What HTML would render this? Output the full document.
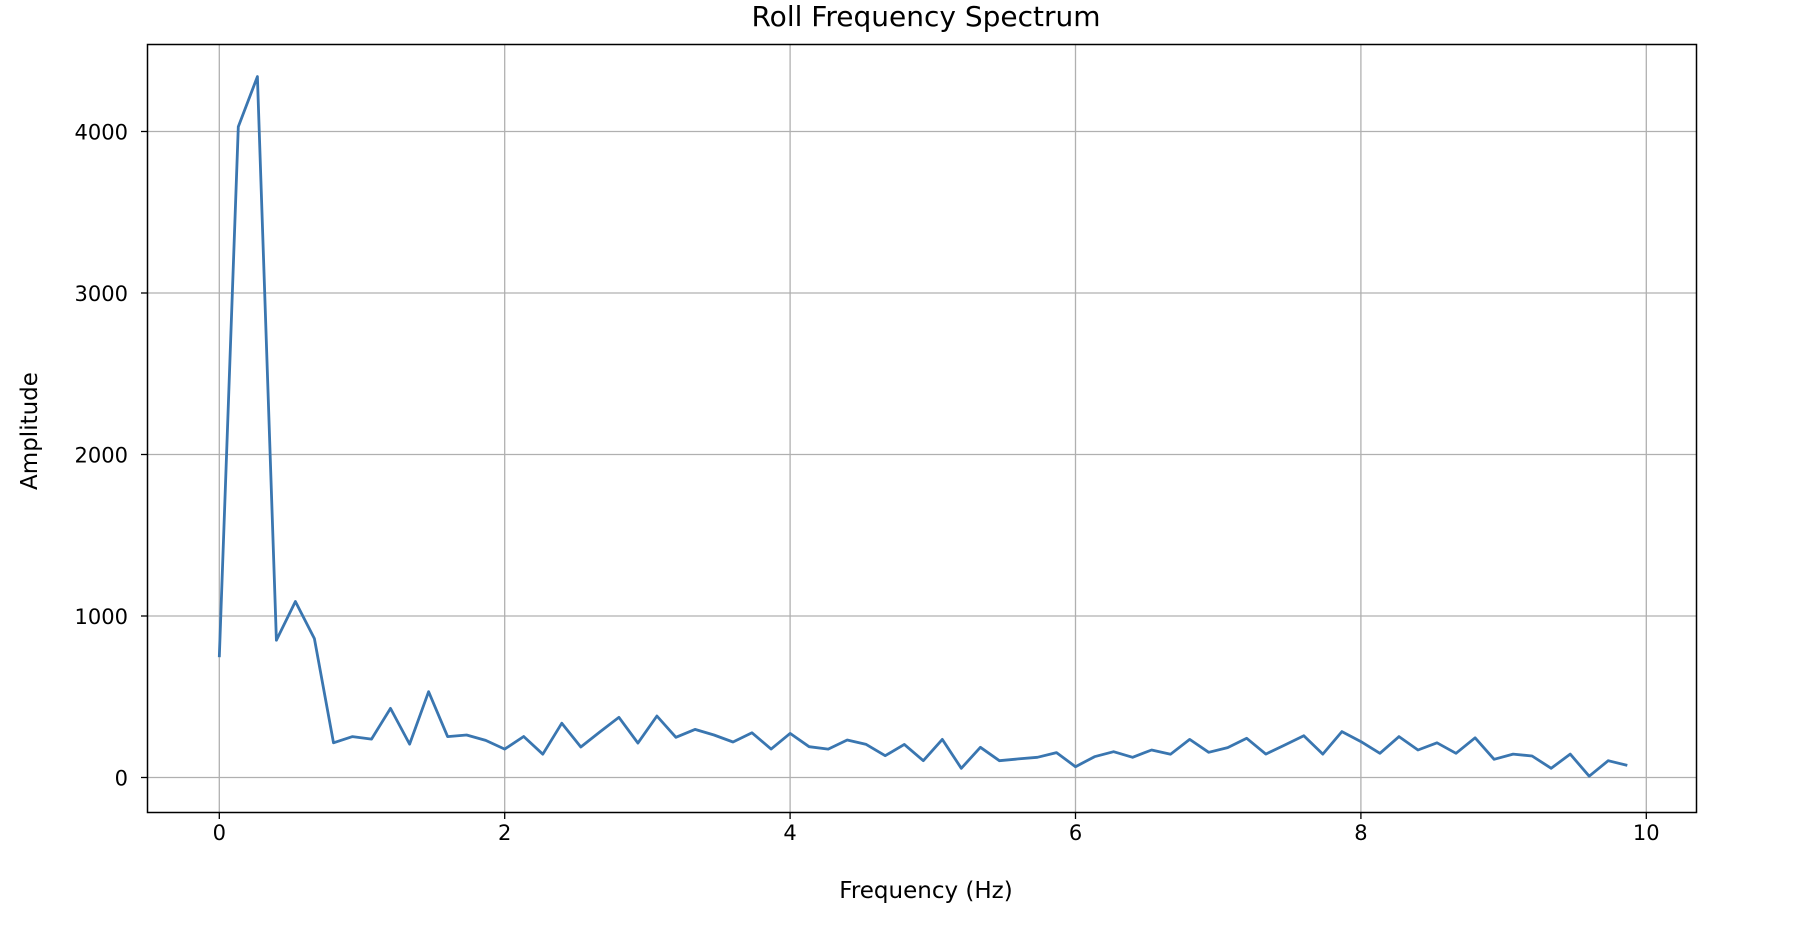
<!DOCTYPE html>
<html><head><meta charset="utf-8"><style>
html,body{margin:0;padding:0;background:#fff;}
svg{display:block;font-family:"DejaVu Sans","Liberation Sans",sans-serif;}
</style></head><body>
<svg id="chart" width="1798" height="926" viewBox="0 0 1798 926" xmlns="http://www.w3.org/2000/svg">
<rect width="1798" height="926" fill="#fff"/>
<text x="926" y="26" font-size="28" text-anchor="middle" fill="#000">Roll Frequency Spectrum</text>
<g id="grid"></g>
<g id="ticks"></g>
<path id="series" fill="none" stroke="#3a76b0" stroke-width="2.8" stroke-linejoin="round"/>
<rect x="147.5" y="44.5" width="1549" height="768" fill="none" stroke="#000" stroke-width="1.5"/>
<text x="926" y="898" font-size="23" text-anchor="middle" fill="#000">Frequency (Hz)</text>
<text x="0" y="0" font-size="23" text-anchor="middle" fill="#000" transform="translate(37,431) rotate(-90)">Amplitude</text>
</svg>
<script>
const amplitudes = [745,4030,4340,850,1090,860,215,253,238,428,207,531,253,263,230,176,254,144,336,189,282,373,213,381,249,298,263,220,277,176,273,191,176,232,205,135,205,104,236,57,187,104,115,125,154,67,129,160,125,170,144,236,156,185,243,145,201,259,145,284,222,150,253,170,215,150,246,113,145,133,57,145,8,104,75];
const freqStep = 10/75;
const xTicks = [0,2,4,6,8,10];
const yTicks = [0,1000,2000,3000,4000];
const x0=219.3, xs=142.7, y0=777.5, ys=0.1615;
function X(v){return x0+v*xs;}
function Y(v){return y0-v*ys;}
const ns="http://www.w3.org/2000/svg";
const grid=document.getElementById('grid'), ticks=document.getElementById('ticks');
xTicks.forEach(t=>{
  const l=document.createElementNS(ns,'line');
  
  
  l.setAttribute('x1',X(t));l.setAttribute('x2',X(t));l.setAttribute('y1',44.5);l.setAttribute('y2',812.5);
  l.setAttribute('stroke','#b0b0b0');l.setAttribute('stroke-width','1.3');grid.appendChild(l);
  const k=document.createElementNS(ns,'line');
  
  
  k.setAttribute('x1',X(t));k.setAttribute('x2',X(t));k.setAttribute('y1',812.5);k.setAttribute('y2',819);
  k.setAttribute('stroke','#000');k.setAttribute('stroke-width','1.3');ticks.appendChild(k);
  const tx=document.createElementNS(ns,'text');
  
  
  tx.setAttribute('x',X(t));tx.setAttribute('y',840);tx.setAttribute('font-size','21');tx.setAttribute('text-anchor','middle');
  tx.textContent=t;ticks.appendChild(tx);
});
yTicks.forEach(t=>{
  const l=document.createElementNS(ns,'line');
  
  
  l.setAttribute('x1',147.5);l.setAttribute('x2',1696.5);l.setAttribute('y1',Y(t));l.setAttribute('y2',Y(t));
  l.setAttribute('stroke','#b0b0b0');l.setAttribute('stroke-width','1.3');grid.appendChild(l);
  const k=document.createElementNS(ns,'line');
  
  
  k.setAttribute('x1',141);k.setAttribute('x2',147.5);k.setAttribute('y1',Y(t));k.setAttribute('y2',Y(t));
  k.setAttribute('stroke','#000');k.setAttribute('stroke-width','1.3');ticks.appendChild(k);
  const tx=document.createElementNS(ns,'text');
  
  
  tx.setAttribute('x',128);tx.setAttribute('y',Y(t)+8);tx.setAttribute('font-size','21');tx.setAttribute('text-anchor','end');
  tx.textContent=t;ticks.appendChild(tx);
});
document.getElementById('series').setAttribute('d',amplitudes.map((v,i)=>(i?'L':'M')+X(i*freqStep).toFixed(1)+' '+Y(v).toFixed(1)).join(' '));
</script>
</body></html>
